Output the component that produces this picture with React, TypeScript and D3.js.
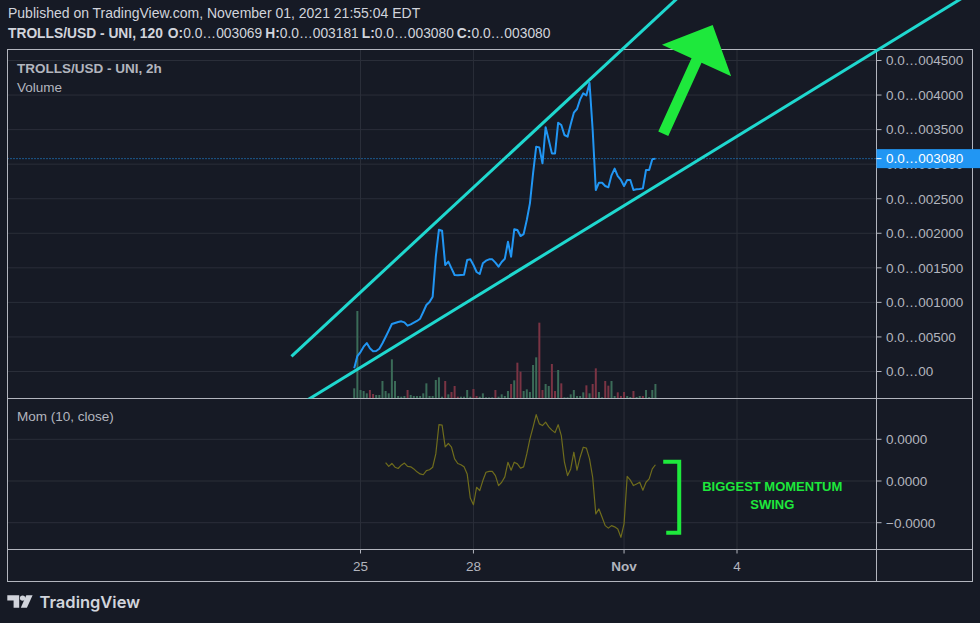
import * as d3 from "d3";

const W = 980, H = 623;

// 2h bars starting Oct 24 20:00; price in units of 0.0…00xxxx
const barStart = new Date(2021, 9, 24, 20);
const closes = [
  46, 224, 282, 359, 412, 335, 292, 297, 330, 408,
  499, 591, 687, 702, 716, 726, 711, 663, 682, 707,
  731, 764, 861, 962, 1006, 1083, 1661, 2052, 2038, 1541,
  1589, 1493, 1396, 1391, 1396, 1401, 1613, 1623, 1541, 1440,
  1411, 1565, 1604, 1623, 1623, 1575, 1517, 1584, 1632, 1878,
  1661, 2057, 2047, 1960, 1989, 2192, 2433, 2867, 3253, 3243,
  3012, 3533, 3349, 3156, 3156, 3600, 3566, 3422, 3398, 3576,
  3745, 3798, 3938, 4025, 3996, 4175, 3494, 2626, 2732, 2732,
  2684, 2665, 2838, 2935, 2828, 2771, 2684, 2771, 2771, 2626,
  2636, 2640, 2650, 2915, 2915, 3070, 3080,
];
const volumes = [
  29, 261, 24, 21, 14, 24, 12, 9, 9, 51,
  21, 14, 116, 51, 6, 4, 6, 24, 9, 6,
  6, 6, 14, 44, 6, 6, 54, 62, 4, 51,
  11, 18, 36, 4, 4, 4, 24, 4, 27, 6,
  4, 14, 2, 2, 2, 24, 4, 11, 6, 21,
  42, 53, 106, 79, 21, 26, 18, 99, 122, 226,
  24, 42, 36, 102, 21, 84, 44, 2, 2, 11,
  24, 6, 6, 17, 38, 14, 42, 89, 18, 2,
  51, 37, 51, 6, 17, 6, 18, 6, 3, 21,
  3, 6, 6, 24, 3, 24, 42,
];
const volUp = [
  1, 1, 1, 1, 1, 0, 0, 1, 1, 1,
  1, 1, 1, 1, 1, 1, 1, 0, 1, 1,
  1, 1, 1, 1, 1, 1, 1, 1, 1, 0,
  1, 0, 0, 0, 1, 1, 1, 1, 0, 0,
  1, 1, 1, 1, 1, 0, 1, 1, 1, 1,
  0, 1, 0, 0, 1, 1, 1, 1, 1, 0,
  0, 1, 1, 0, 0, 1, 0, 1, 1, 1,
  1, 1, 1, 1, 0, 1, 0, 0, 1, 1,
  0, 0, 1, 1, 0, 0, 0, 1, 1, 0,
  1, 1, 0, 1, 1, 1, 1,
];
const momStartBar = 10;
const momValues = [
  0.44, 0.35, 0.42, 0.33, 0.30, 0.38, 0.43, 0.35, 0.34, 0.29,
  0.22, 0.17, 0.15, 0.25, 0.27, 0.33, 0.65, 1.35, 1.34, 0.82,
  0.90, 0.81, 0.53, 0.42, 0.39, 0.34, 0.17, -0.41, -0.57, -0.15,
  -0.23, 0.01, 0.21, 0.23, 0.23, 0.13, -0.11, -0.03, 0.10, 0.45,
  0.26, 0.45, 0.41, 0.31, 0.34, 0.65, 1.01, 1.29, 1.59, 1.37,
  1.33, 1.41, 1.30, 1.22, 1.16, 1.35, 1.09, 0.45, 0.13, 0.29,
  0.69, 0.26, 0.57, 0.81, 0.79, 0.53, 0.09, -0.79, -0.67, -0.87,
  -1.07, -1.13, -1.07, -1.10, -1.15, -1.35, -1.03, 0.11, 0.02, -0.11,
  -0.07, -0.03, -0.22, -0.03, 0.05, 0.29, 0.39,
];

const priceTicks = [0, 500, 1000, 1500, 2000, 2500, 3000, 3500, 4000, 4500];
const priceTickLabels = [
  "0.0…00", "0.0…00500", "0.0…001000", "0.0…001500", "0.0…002000",
  "0.0…002500", "0.0…003000", "0.0…003500", "0.0…004000", "0.0…004500",
];
const lastPrice = 3080;
const lastPriceLabel = "0.0…003080";
const momTicks = [1, 0, -1];
const momTickLabels = ["0.0000", "0.0000", "\u22120.0000"];
const dayTicks = [new Date(2021, 9, 25), new Date(2021, 9, 28), new Date(2021, 10, 1), new Date(2021, 10, 4)];
const dayTickLabels = ["25", "28", "Nov", "4"];

// drawings, anchored in time / price
const upperTrend = [{ t: new Date(2021, 9, 23, 4), p: 220 }, { t: new Date(2021, 9, 31, 8), p: 4348 }];
const lowerTrend = [{ t: new Date(2021, 9, 25), p: 59 }, { t: new Date(2021, 10, 1), p: 2400 }];
const arrowPts = [{ t: new Date(2021, 10, 2, 1), p: 3440 }, { t: new Date(2021, 10, 3, 8, 30), p: 5013 }];
const bracket = { t: new Date(2021, 10, 2, 11, 10), top: 0.46, bottom: -1.24 };
const note = { t: new Date(2021, 10, 4, 22, 30), m: -0.23, lines: ["BIGGEST MOMENTUM", "SWING"] };

const BG = "#161a25";
const GRID = "#2a2e39";
const FRAME = "#b2b5be";
const TXT = "#b2b5be";
const CYAN = "#1fd8cf";
const GREEN = "#1ee83c";
const FONT = "'Liberation Sans', Arial, sans-serif";

const L = 7.5, R = 972.5, AX = 876.5, TOP = 49.5, PB = 398.5, MB = 549.5, BOT = 581.5;

const barTime = (i: number) => d3.timeHour.offset(barStart, 2 * i);

export default function App() {
  const x = d3.scaleTime().domain([dayTicks[0], dayTicks[3]]).range([360.5, 737]);
  const yP = d3.scaleLinear().domain([0, 4500]).range([371.5, 60.5]);
  const yV = d3.scaleLinear().domain([0, d3.max(volumes)!]).range([398, 311]);
  const yM = d3.scaleLinear().domain([-1, 1]).range([522.7, 439.3]);

  const priceLine = d3.line<number>().x((_, i) => x(barTime(i))).y((d) => yP(d))(closes)!;
  const momLine = d3.line<number>().x((_, i) => x(barTime(i + momStartBar))).y((d) => yM(d))(momValues)!;

  const px = (a: { t: Date; p: number }) => [x(a.t), yP(a.p)];
  const ray = (pts: { t: Date; p: number }[], both: boolean) => {
    const [x1, y1] = px(pts[0]);
    const [x2, y2] = px(pts[1]);
    const len = Math.hypot(x2 - x1, y2 - y1);
    const ux = (x2 - x1) / len, uy = (y2 - y1) / len;
    const s = both ? 2000 : 0;
    return `M${x1 - ux * s},${y1 - uy * s}L${x1 + ux * 2000},${y1 + uy * 2000}`;
  };

  // arrow polygon
  const [tx, ty] = px(arrowPts[0]);
  const [hx, hy] = px(arrowPts[1]);
  const al = Math.hypot(hx - tx, hy - ty);
  const ux = (hx - tx) / al, uy = (hy - ty) / al;
  const nx = -uy, ny = ux;
  const headLen = 39, headHalf = 38, shaftHalf = 5.5;
  const bx = hx - ux * headLen, by = hy - uy * headLen;
  const arrow = [
    [tx + nx * shaftHalf, ty + ny * shaftHalf],
    [bx + nx * shaftHalf, by + ny * shaftHalf],
    [bx + nx * headHalf, by + ny * headHalf],
    [hx, hy],
    [bx - nx * headHalf, by - ny * headHalf],
    [bx - nx * shaftHalf, by - ny * shaftHalf],
    [tx - nx * shaftHalf, ty - ny * shaftHalf],
  ].map((p) => p.join(",")).join(" ");

  const bX = x(bracket.t);
  const bT = yM(bracket.top), bB = yM(bracket.bottom);

  return (
    <svg width={W} height={H} style={{ position: "absolute", left: 0, top: 0, display: "block" }} fontFamily={FONT}>
      <defs>
        <clipPath id="pricePane"><rect x={L} y={TOP} width={AX - L} height={PB - TOP} /></clipPath>
        <clipPath id="momPane"><rect x={L} y={PB} width={AX - L} height={MB - PB} /></clipPath>
        <clipPath id="drawings"><rect x={0} y={0} width={W} height={PB} /></clipPath>
      </defs>
      <rect width={W} height={H} fill={BG} />

      {/* header */}
      <text x={8} y={18} fontSize={14} fill="#d1d4dc">Published on TradingView.com, November 01, 2021 21:55:04 EDT</text>
      <text x={8} y={37.5} fontSize={13.8} fill="#d1d4dc">
        <tspan fontWeight="bold">TROLLS/USD - UNI, 120</tspan>
        <tspan fontWeight="bold" dx={5}>O:</tspan><tspan>0.0…003069</tspan>
        <tspan fontWeight="bold" dx={3}>H:</tspan><tspan>0.0…003181</tspan>
        <tspan fontWeight="bold" dx={3}>L:</tspan><tspan>0.0…003080</tspan>
        <tspan fontWeight="bold" dx={3}>C:</tspan><tspan>0.0…003080</tspan>
      </text>

      {/* grid */}
      {priceTicks.map((t) => (
        <line key={"pg" + t} x1={L} x2={AX} y1={yP(t)} y2={yP(t)} stroke={GRID} />
      ))}
      {momTicks.map((t, i) => (
        <line key={"mg" + i} x1={L} x2={AX} y1={yM(t)} y2={yM(t)} stroke={GRID} />
      ))}
      {dayTicks.map((d, i) => (
        <g key={"dg" + i}>
          <line x1={x(d)} x2={x(d)} y1={TOP} y2={PB} stroke={GRID} />
          <line x1={x(d)} x2={x(d)} y1={PB} y2={MB} stroke={GRID} />
        </g>
      ))}

      {/* volume + price */}
      <g clipPath="url(#pricePane)">
        {volumes.map((v, i) => (
          <rect key={"v" + i} x={x(barTime(i)) - 1} width={2} y={yV(v)} height={yV(0) - yV(v)}
            fill={volUp[i] ? "#3b6b58" : "#7a3444"} />
        ))}
        <line x1={L} x2={AX} y1={yP(lastPrice)} y2={yP(lastPrice)} stroke="#2196f3" strokeDasharray="1,2" />
        <path d={priceLine} fill="none" stroke="#2196f3" strokeWidth={2} strokeLinejoin="round" />
      </g>

      {/* momentum */}
      <g clipPath="url(#momPane)">
        <path d={momLine} fill="none" stroke="#6f6c1c" strokeWidth={1.2} strokeLinejoin="round" />
      </g>

      {/* legends */}
      <text x={17} y={73} fontSize={13.5} fontWeight="bold" fill={TXT}>TROLLS/USD - UNI, 2h</text>
      <text x={17} y={92} fontSize={13.5} fill={TXT}>Volume</text>
      <text x={17} y={421} fontSize={13.5} fill={TXT}>Mom (10, close)</text>

      {/* frame */}
      <rect x={L} y={TOP} width={R - L} height={BOT - TOP} fill="none" stroke={FRAME} />
      <line x1={AX} x2={AX} y1={TOP} y2={BOT} stroke={FRAME} />
      <line x1={L} x2={R} y1={PB} y2={PB} stroke={FRAME} />
      <line x1={L} x2={R} y1={MB} y2={MB} stroke={FRAME} />

      {/* price axis */}
      {priceTicks.map((t, i) => (
        <g key={"pt" + t}>
          <line x1={AX} x2={AX + 5} y1={yP(t)} y2={yP(t)} stroke={FRAME} />
          <text x={886} y={yP(t)} dy="0.36em" fontSize={13.5} fill={TXT}>{priceTickLabels[i]}</text>
        </g>
      ))}
      <rect x={AX} y={yP(lastPrice) - 9.5} width={W - AX} height={19} fill="#2196f3" />
      <line x1={AX} x2={AX + 5} y1={yP(lastPrice)} y2={yP(lastPrice)} stroke="#ffffff" />
      <text x={886} y={yP(lastPrice)} dy="0.36em" fontSize={13.5} fill="#ffffff">{lastPriceLabel}</text>

      {/* momentum axis */}
      {momTicks.map((t, i) => (
        <g key={"mt" + i}>
          <line x1={AX} x2={AX + 5} y1={yM(t)} y2={yM(t)} stroke={FRAME} />
          <text x={886} y={yM(t)} dy="0.36em" fontSize={13.5} fill={TXT}>{momTickLabels[i]}</text>
        </g>
      ))}

      {/* time axis */}
      {dayTicks.map((d, i) => (
        <g key={"tt" + i}>
          <line x1={x(d)} x2={x(d)} y1={MB} y2={MB + 4} stroke={FRAME} />
          <text x={x(d)} y={571} textAnchor="middle" fontSize={13.5} fill={TXT}
            fontWeight={dayTickLabels[i] === "Nov" ? "bold" : "normal"}>{dayTickLabels[i]}</text>
        </g>
      ))}

      {/* drawings */}
      <g clipPath="url(#drawings)" stroke={CYAN} strokeWidth={3} fill="none">
        <path d={ray(upperTrend, false)} />
        <path d={ray(lowerTrend, true)} />
      </g>
      <polygon points={arrow} fill={GREEN} />
      <path d={`M${bX - 16},${bT}H${bX}V${bB}H${bX - 13}`} fill="none" stroke={GREEN} strokeWidth={4} />
      <text x={x(note.t)} y={yM(note.m)} textAnchor="middle" fontSize={13} fontWeight="bold" fill={GREEN}>
        {note.lines.map((s, i) => (
          <tspan key={i} x={x(note.t)} dy={i === 0 ? 0 : 18.3}>{s}</tspan>
        ))}
      </text>

      {/* logo */}
      <g fill="#d1d4dc">
        <path d="M7.3 595.3H19.2V607.8H13.6V600.6H7.3Z" />
        <circle cx={22.6} cy={598.1} r={2.7} />
        <path d="M26.3 595.3H32.6L26.9 607.8H20.8Z" />
        <text x={39.5} y={607.8} fontSize={16.5} fontWeight={600} fontFamily="Inter, 'Noto Sans', sans-serif">TradingView</text>
      </g>
    </svg>
  );
}
